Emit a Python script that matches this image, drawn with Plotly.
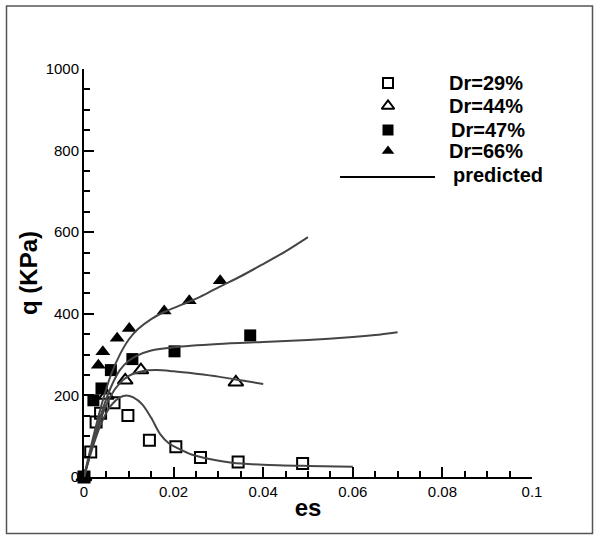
import plotly.graph_objects as go

# ---------------- data ----------------
es_29 = [0.0, 0.0015, 0.0027, 0.0037, 0.0067, 0.0098, 0.0146, 0.0205, 0.026, 0.0344, 0.0488]
q_29 = [0, 61, 135, 156, 182, 151, 90, 74, 48, 37, 33]

es_44 = [0.0, 0.005, 0.0092, 0.0127, 0.0339]
q_44 = [0, 200, 237, 262, 232]

es_47 = [0.0, 0.0021, 0.0039, 0.006, 0.0108, 0.0202, 0.0371]
q_47 = [0, 188, 217, 262, 289, 308, 347]

es_66 = [0.0, 0.0032, 0.0042, 0.0074, 0.0101, 0.0179, 0.0235, 0.0304]
q_66 = [0, 274, 307, 340, 364, 407, 432, 481]

pred_es_29 = [0, 0.002, 0.004, 0.006, 0.008, 0.0095, 0.011, 0.013, 0.015, 0.017, 0.019, 0.021, 0.024, 0.028, 0.033, 0.04, 0.05, 0.06]
pred_q_29 = [0, 75, 135, 175, 195, 200, 195, 178, 145, 105, 82, 70, 55, 44, 35, 30, 27, 25]

pred_es_44 = [0, 0.002, 0.004, 0.006, 0.008, 0.01, 0.013, 0.016, 0.02, 0.025, 0.03, 0.035, 0.04]
pred_q_44 = [0, 80, 150, 200, 230, 248, 259, 262, 259, 253, 246, 237, 228]

pred_es_47 = [0, 0.002, 0.004, 0.006, 0.008, 0.01, 0.012, 0.015, 0.02, 0.03, 0.04, 0.05, 0.06, 0.065, 0.07]
pred_q_47 = [0, 85, 160, 220, 262, 285, 298, 310, 318, 326, 331, 336, 343, 348, 355]

pred_es_66 = [0, 0.002, 0.004, 0.006, 0.008, 0.01, 0.012, 0.015, 0.018, 0.022, 0.026, 0.03, 0.035, 0.04, 0.045, 0.05]
pred_q_66 = [0, 95, 180, 250, 300, 337, 362, 387, 405, 423, 442, 465, 492, 522, 553, 588]

legend_labels = ["Dr=29%", "Dr=44%", "Dr=47%", "Dr=66%", "predicted"]
x_ticks = [0, 0.02, 0.04, 0.06, 0.08, 0.1]
x_tick_text = ["0", "0.02", "0.04", "0.06", "0.08", "0.1"]
y_ticks = [0, 200, 400, 600, 800, 1000]

# ---------------- layout constants ----------------
W, H = 598, 536
ML, MR, MT, MB = 84, 66, 69, 59
PW, PH = W - ML - MR, H - MT - MB
XMAX, YMAX = 0.1, 1000


def px2x(px):
    return (px - ML) / PW * XMAX


def py2y(py):
    return (H - MB - py) / PH * YMAX


def ppx(px):
    return (px - ML) / PW


def ppy(py):
    return (H - MB - py) / PH


LINE_COLOR = "#454545"
FONT = "Liberation Sans, Arial"

fig = go.Figure()

marker_specs = [
    (es_29, q_29, dict(symbol="square-open", size=11, color="black", line=dict(width=2, color="black"))),
    (es_44, q_44, dict(symbol="triangle-up-open", size=13, color="black", line=dict(width=2, color="black"))),
    (es_47, q_47, dict(symbol="square", size=12, color="black")),
    (es_66, q_66, dict(symbol="triangle-up", size=13, color="black")),
]
for xs, ys, mk in marker_specs:
    fig.add_trace(go.Scatter(x=xs, y=ys, mode="markers", marker=mk,
                             cliponaxis=False, showlegend=False))

for xs, ys in [(pred_es_29, pred_q_29), (pred_es_44, pred_q_44),
               (pred_es_47, pred_q_47), (pred_es_66, pred_q_66)]:
    fig.add_trace(go.Scatter(x=xs, y=ys, mode="lines",
                             line=dict(color=LINE_COLOR, width=2, shape="spline", smoothing=0.8),
                             showlegend=False))

# ---------------- manual legend ----------------
leg_rows_y = [83, 106, 130, 151]
leg_key_x = 388
leg_syms = [
    dict(symbol="square-open", size=10, color="black", line=dict(width=2, color="black")),
    dict(symbol="triangle-up-open", size=11, color="black", line=dict(width=2, color="black")),
    dict(symbol="square", size=11, color="black"),
    dict(symbol="triangle-up", size=11, color="black"),
]
for ry, mk in zip(leg_rows_y, leg_syms):
    fig.add_trace(go.Scatter(x=[px2x(leg_key_x)], y=[py2y(ry)], mode="markers",
                             marker=mk, cliponaxis=False, showlegend=False))
fig.add_trace(go.Scatter(x=[px2x(340), px2x(435)], y=[py2y(177), py2y(177)], mode="lines",
                         line=dict(color="black", width=2), cliponaxis=False, showlegend=False))

text_rows_y = leg_rows_y + [175]
text_x = [447, 447, 449, 447, 451]
annotations = []
for lab, ty, tx in zip(legend_labels, text_rows_y, text_x):
    annotations.append(dict(x=ppx(tx), y=ppy(ty), xref="paper", yref="paper",
                            text="<b>" + lab + "</b>", showarrow=False, xanchor="left", yanchor="middle",
                            font=dict(family=FONT, size=20, color="black")))

# ---------------- outer frame ----------------
shapes = [dict(type="rect", xref="paper", yref="paper",
               x0=ppx(6.5), x1=ppx(592.5), y0=ppy(533.5), y1=ppy(6),
               line=dict(color="#555555", width=1.5), fillcolor="rgba(0,0,0,0)", layer="below")]

axis_common = dict(
    showline=True, linecolor="black", linewidth=2, mirror=False,
    ticks="inside", ticklen=10, tickwidth=2, tickcolor="black",
    showgrid=False, zeroline=False,
    tickfont=dict(family=FONT, size=15, color="black"),
)

fig.update_layout(
    width=W, height=H,
    margin=dict(l=ML, r=MR, t=MT, b=MB, pad=0),
    paper_bgcolor="white", plot_bgcolor="white",
    xaxis=dict(range=[0, XMAX], tickvals=x_ticks, ticktext=x_tick_text,
               minor=dict(ticks="inside", ticklen=6, tickwidth=1.5, tickcolor="black", dtick=0.005, showgrid=False),
               title=dict(text="<b>es</b>", standoff=0,
                          font=dict(family=FONT, size=24, color="black")),
               **axis_common),
    yaxis=dict(range=[0, YMAX], tickvals=y_ticks,
               minor=dict(ticks="inside", ticklen=6, tickwidth=1.5, tickcolor="black", dtick=50, showgrid=False),
               title=dict(text="<b>q (KPa)</b>", standoff=1,
                          font=dict(family=FONT, size=24, color="black")),
               **axis_common),
    annotations=annotations,
    shapes=shapes,
    showlegend=False,
)

fig.write_html("out.html")
